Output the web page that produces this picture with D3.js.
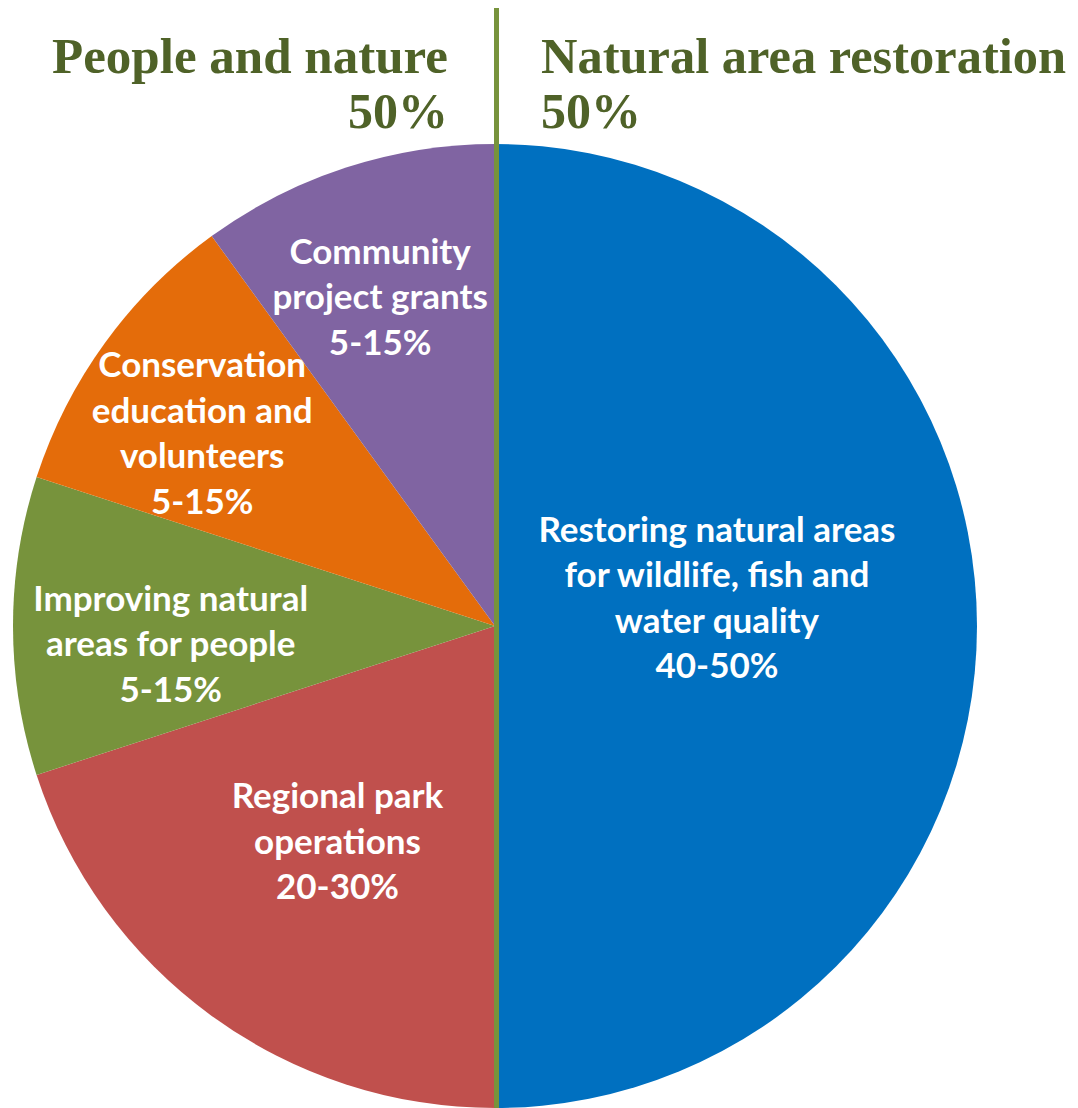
<!DOCTYPE html>
<html>
<head>
<meta charset="utf-8">
<script src="https://cdn.jsdelivr.net/npm/d3@7"></script>
<style>
  body { margin: 0; background: #fff; }
  .hdr { font-family: "Liberation Serif", serif; font-weight: bold; fill: #4F6228; }
  .lbl { font-family: Lato, "Open Sans", sans-serif; font-weight: bold; fill: #fff; }
</style>
</head>
<body>
<svg id="chart" width="1078" height="1108"></svg>
<script>
// slice data, clockwise from 12 o'clock
var categories = ["Restoring natural areas for wildlife, fish and water quality",
                  "Regional park operations",
                  "Improving natural areas for people",
                  "Conservation education and volunteers",
                  "Community project grants"];
var shares = [50, 20, 10, 10, 10];
var ranges = ["40-50%", "20-30%", "5-15%", "5-15%", "5-15%"];
var labelLines = [
  ["Restoring natural areas", "for wildlife, fish and", "water quality"],
  ["Regional park", "operations"],
  ["Improving natural", "areas for people"],
  ["Conservation", "education and", "volunteers"],
  ["Community", "project grants"]
];
var colors = ["#0070C0", "#C0504D", "#77933C", "#E46C0A", "#8064A2"];
var groupNames = ["People and nature", "Natural area restoration"];
var groupShares = ["50%", "50%"];

var svg = d3.select("#chart");
var cx = 495, cy = 626, R = 482;

var pie = d3.pie().sort(null).value(function(d){ return d; });
var arcs = pie(shares);
var arc = d3.arc().innerRadius(0).outerRadius(R);

var g = svg.append("g").attr("transform", "translate(" + cx + "," + cy + ")");

g.selectAll("path.slice")
  .data(arcs)
  .enter().append("path")
    .attr("class", "slice")
    .attr("d", arc)
    .attr("fill", function(d, i){ return colors[i]; });

// label placement: fraction of radius and angle nudge (degrees) off slice middle
var labelR = [0.464, 0.556, 0.674, 0.726, 0.721];
var labelTurn = [-7, 0, -3.4, -2.8, -1.3];
var lineH = 45.5;

arcs.forEach(function(d, i) {
  var mid = (d.startAngle + d.endAngle) / 2 + labelTurn[i] * Math.PI / 180;
  var r = R * labelR[i];
  var x = Math.sin(mid) * r, y = -Math.cos(mid) * r;
  var lines = labelLines[i].concat([ranges[i]]);
  var y0 = y - (lines.length - 1) * lineH / 2 + 11;
  var t = g.append("text")
    .attr("class", "lbl")
    .attr("text-anchor", "middle")
    .style("font-size", "35px");
  lines.forEach(function(s, j) {
    t.append("tspan").attr("x", x).attr("y", y0 + j * lineH).text(s);
  });
});

// divider between the two halves
svg.append("line")
  .attr("x1", 496.5).attr("x2", 496.5)
  .attr("y1", 8).attr("y2", 1108)
  .attr("stroke", "#77933C")
  .attr("stroke-width", 5);

// group headings
svg.append("text").attr("class", "hdr").attr("x", 448).attr("y", 73)
  .attr("text-anchor", "end").style("font-size", "50px")
  .attr("textLength", 396).attr("lengthAdjust", "spacingAndGlyphs")
  .text(groupNames[0]);
svg.append("text").attr("class", "hdr").attr("x", 448).attr("y", 128)
  .attr("text-anchor", "end").style("font-size", "50px")
  .text(groupShares[0]);
svg.append("text").attr("class", "hdr").attr("x", 541).attr("y", 73)
  .style("font-size", "50px")
  .attr("textLength", 525).attr("lengthAdjust", "spacingAndGlyphs")
  .text(groupNames[1]);
svg.append("text").attr("class", "hdr").attr("x", 541).attr("y", 128)
  .style("font-size", "50px")
  .text(groupShares[1]);
</script>
</body>
</html>
